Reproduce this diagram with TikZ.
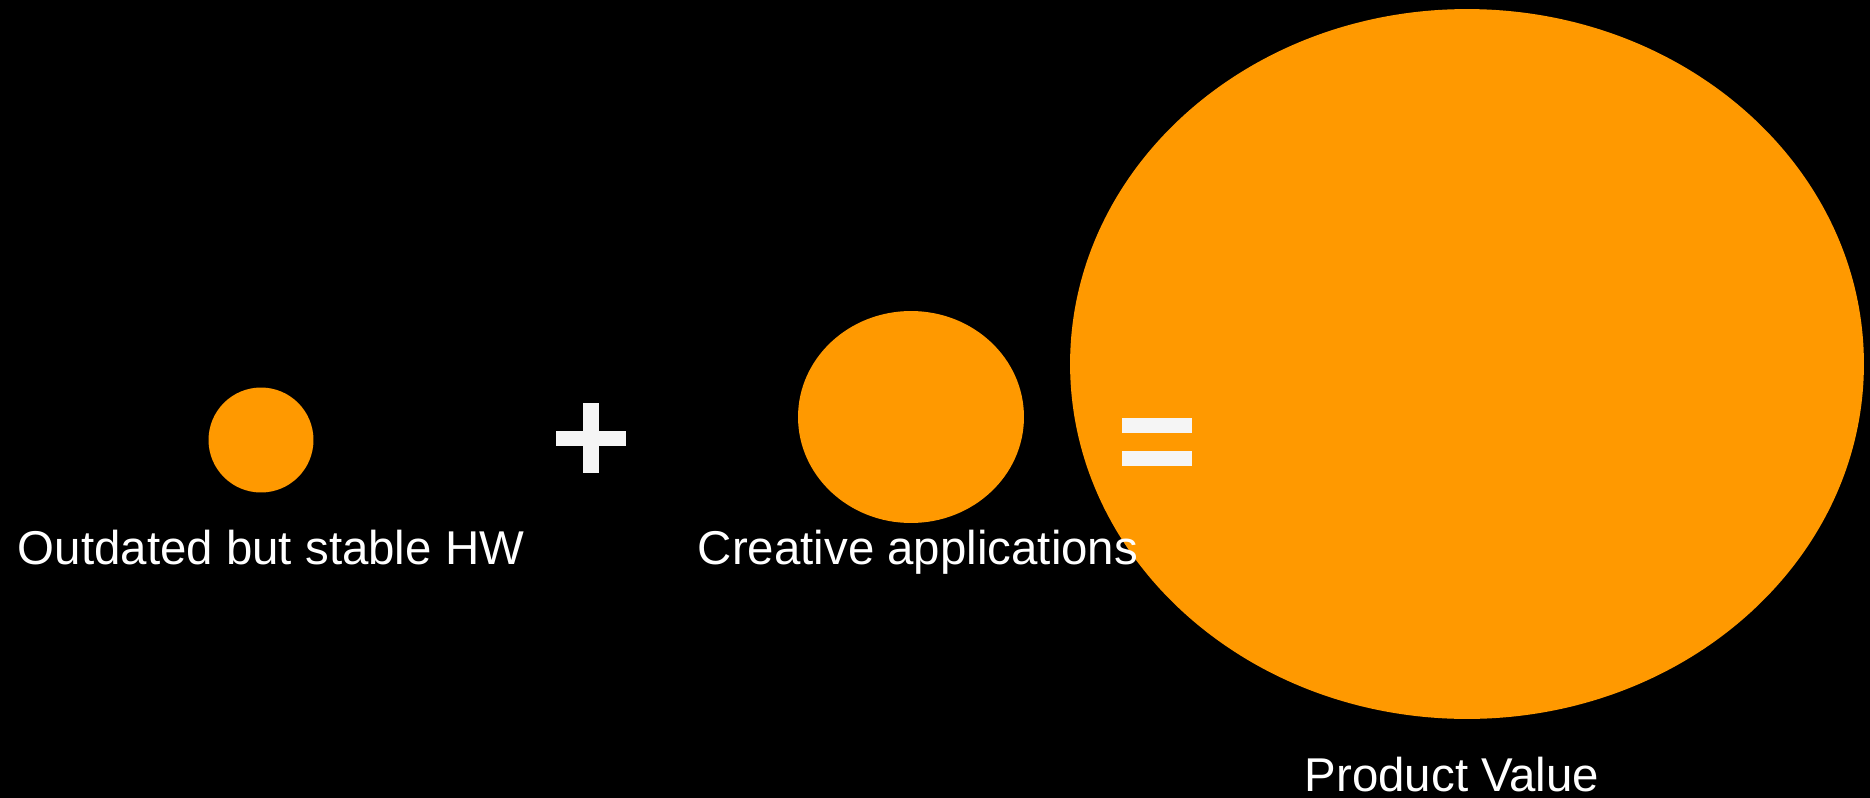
\documentclass[tikz,border=0pt]{standalone}
\usepackage{fontspec}
\setmainfont{Liberation Sans}
\usetikzlibrary{shapes.geometric,positioning}
\definecolor{valueorange}{HTML}{FF9900}
\definecolor{signwhite}{HTML}{F5F5F5}
\tikzset{
  blob/.style={ellipse, fill=valueorange, inner sep=0pt},
  caption/.style={text=white, font=\fontsize{27}{32}\selectfont, anchor=base, inner sep=0pt},
}

\begin{document}
\begin{tikzpicture}[x=0.02cm, y=-0.02cm]
    % Background
    \fill[black] (0,0) rectangle (1870,798);
    % Ellipses
    \node[blob, minimum width=2.1cm, minimum height=2.1cm] (hw) at (261,440) {};
    \node[blob, minimum width=4.52cm, minimum height=4.24cm] (apps) at (911,417) {};
    \node[blob, minimum width=15.88cm, minimum height=14.2cm] (value) at (1467,364) {};
    % Labels
    \node[caption] (hwlabel) at (271,564) {Outdated but stable HW};
    \node[caption] (appslabel) at (918,564) {Creative applications};
    \node[caption] (valuelabel) at (1452,791) {Product Value};
    % Plus and equals
    \fill[signwhite] (556,431) rectangle (626,446);
    \fill[signwhite] (583,403) rectangle (599,473);
    \fill[signwhite] (1122,418) rectangle (1192,433);
    \fill[signwhite] (1122,451) rectangle (1192,466);
\end{tikzpicture}
\end{document}
